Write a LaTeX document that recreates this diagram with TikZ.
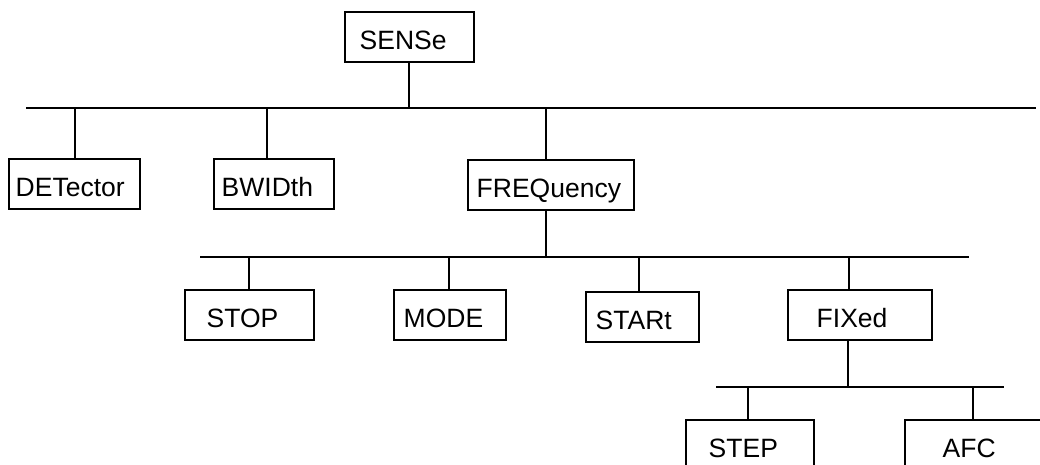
\documentclass[tikz,border=0pt]{standalone}
\usepackage{fontspec}
\setmainfont{Liberation Sans}

\begin{document}
\begin{tikzpicture}[x=1pt,y=-1pt,line width=2.4pt,
  box/.style 2 args={draw, anchor=north west, align=left,
    text width=#1, inner xsep=#2, minimum height=50pt,
    text height=24pt, text depth=0pt,
    font=\fontsize{26.5}{30}\selectfont}]

\clip (0,0) rectangle (1040,465);

%\draw[help lines,step=50] (0,0) grid (1040,465);

%% Root
\node [box={100pt}{14.5pt}] (sense) at (344,11) {SENSe};

%% First level
\coordinate (bus1l) at (26,108);
\coordinate (bus1r) at (1036,108);
\draw (bus1l) -- (bus1r);
\coordinate (jsense) at (409,108);
\draw (sense.south -| jsense) -- (jsense);

\node [box={118pt}{6.5pt}] (det) at (8,158) {DETector};
\node [box={105pt}{7.5pt}] (bwid) at (213,158) {BWIDth};
\node [box={149pt}{8.5pt}] (freq) at (467,159) {FREQuency};

\coordinate (jdet) at (75,108);
\coordinate (jbwid) at (267,108);
\coordinate (jfreq) at (546,108);
\draw (jdet) -- (jdet |- det.north);
\draw (jbwid) -- (jbwid |- bwid.north);
\draw (jfreq) -- (jfreq |- freq.north);

%% Second level (FREQuency)
\coordinate (bus2l) at (200,257);
\coordinate (bus2r) at (969,257);
\draw (bus2l) -- (bus2r);
\coordinate (jfreqdown) at (546,257);
\draw (freq.south -| jfreqdown) -- (jfreqdown);

\node [box={86pt}{21.5pt}] (stop) at (184,289) {STOP};
\node [box={93pt}{9.5pt}] (mode) at (393,289) {MODE};
\node [box={94pt}{9.5pt}] (start) at (585,291) {STARt};
\node [box={87pt}{28.5pt}] (fixed) at (787,289) {FIXed};

\coordinate (jstop) at (249,257);
\coordinate (jmode) at (449,257);
\coordinate (jstart) at (639,257);
\coordinate (jfixed) at (849,257);
\draw (jstop) -- (jstop |- stop.north);
\draw (jmode) -- (jmode |- mode.north);
\draw (jstart) -- (jstart |- start.north);
\draw (jfixed) -- (jfixed |- fixed.north);

%% Third level (FIXed)
\coordinate (bus3l) at (716,387);
\coordinate (bus3r) at (1004,387);
\draw (bus3l) -- (bus3r);
\coordinate (jfixeddown) at (848,387);
\draw (fixed.south -| jfixeddown) -- (jfixeddown);

\node [box={83pt}{22.5pt}] (step) at (685,419) {STEP};
\node [box={71pt}{37.5pt}] (afc) at (904,419) {AFC};

\coordinate (jstep) at (748,387);
\coordinate (jafc) at (973,387);
\draw (jstep) -- (jstep |- step.north);
\draw (jafc) -- (jafc |- afc.north);

\end{tikzpicture}
\end{document}
